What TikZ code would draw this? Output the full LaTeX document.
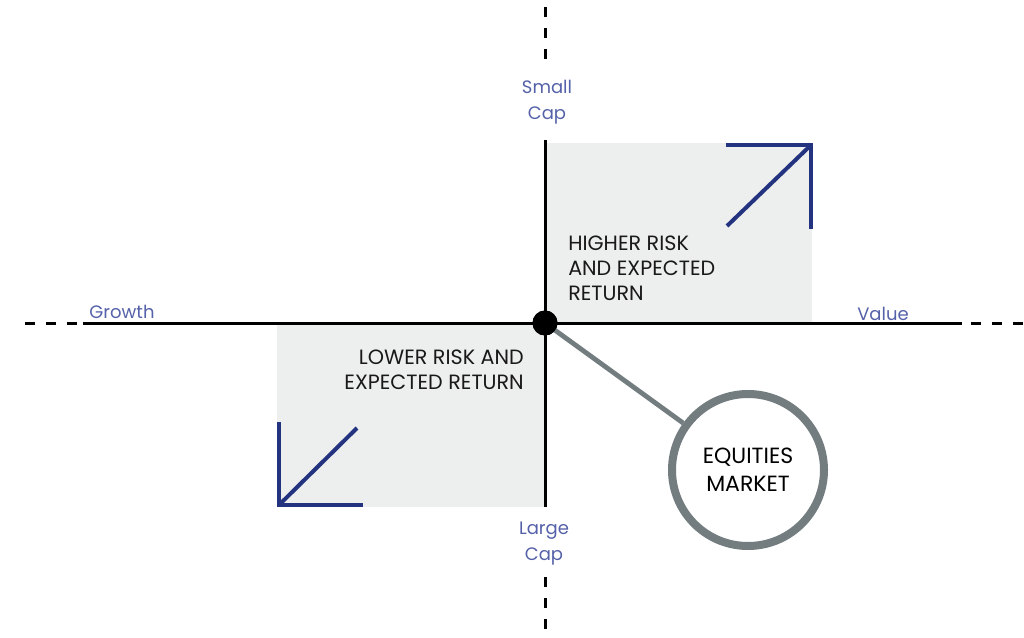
\documentclass[tikz,border=0pt]{standalone}
\usepackage{fontspec}
\setmainfont{Poppins}
\begin{document}
\definecolor{navy}{HTML}{24337F}
\definecolor{labelblue}{HTML}{5561A8}
\definecolor{panel}{HTML}{EDEEEE}
\definecolor{ring}{HTML}{737D80}
\begin{tikzpicture}[x=0.75pt,y=-0.75pt,
  axis/.style={line width=2.25pt,black},
  axisdash/.style={axis,dash pattern=on 7.5pt off 8.25pt},
  arrowstroke/.style={line width=3pt,navy,miter limit=10},
  axislabel/.style={inner sep=0pt,text=labelblue,font=\fontsize{13.5}{19.5}\selectfont,align=center},
  zonetext/.style={inner sep=0pt,text=black!90,font=\fontsize{15.5}{18.75}\selectfont},
  hub/.style={circle,fill=black,inner sep=0pt,minimum size=18.75pt},
  market/.style={circle,draw=ring,line width=6pt,fill=white,minimum size=114pt,inner sep=0pt,
    align=center,font=\fontsize{16.5}{21}\selectfont},
  link/.style={ring,line width=3.6pt}]
\useasboundingbox (0,0) rectangle (1024,638);

% shaded quadrants
\fill[panel] (545,143) rectangle (812,323);
\fill[panel] (277,323) rectangle (545,507);

% axes: solid middle parts, dashed ends
\coordinate (top) at (545,140);
\coordinate (bottom) at (545,507);
\coordinate (left) at (83,323);
\coordinate (right) at (962,323);
\draw[axis] (top) -- (bottom);
\draw[axis] (left) -- (right);
\draw[axisdash] (545,7) -- (545,63);
\draw[axisdash] (545,577) -- (545,638);
\draw[axisdash] (25,323) -- (77,323);
\draw[axisdash] (971,323) -- (1024,323);

% direction arrows
\coordinate (neTail) at (727,226);
\coordinate (neTip) at (811,145);
\draw[arrowstroke] (neTail) -- (neTip);
\draw[arrowstroke] (726,145) -- (neTip) -- (811,229);
\coordinate (swTail) at (357,428);
\coordinate (swTip) at (279,505);
\draw[arrowstroke] (swTail) -- (swTip);
\draw[arrowstroke] (279,422) -- (swTip) -- (363,505);

% axis labels (base anchor = baseline of the last line)
\node[axislabel,anchor=base] (small) at (547,120) {Small\\Cap};
\node[axislabel,anchor=base] (large) at (544,560) {Large\\Cap};
\node[axislabel,anchor=base] (growth) at (122,318) {Growth};
\node[axislabel,anchor=base] (value) at (883,320) {Value};

% quadrant captions
\node[zonetext,anchor=base west,align=left] (higher) at (568,300) {HIGHER RISK\\AND EXPECTED\\RETURN};
\node[zonetext,anchor=base east,align=right] (lower) at (524,389) {LOWER RISK AND\\EXPECTED RETURN};

% market point and callout
\node[market] (eq) at (748,470) {EQUITIES\\MARKET};
\node[hub] (dot) at (545,323) {};
\draw[link] (dot.center) -- (eq);
\node[hub] at (dot) {};
\end{tikzpicture}
\end{document}
